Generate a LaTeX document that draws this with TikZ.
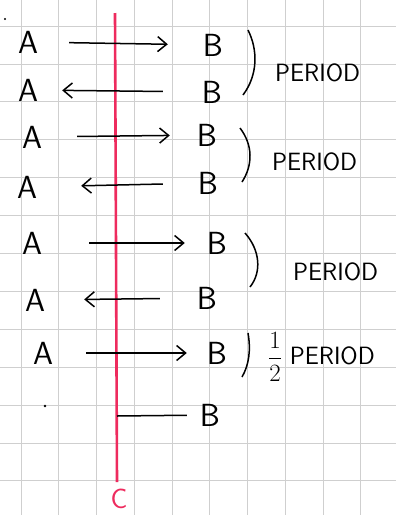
\documentclass[tikz,border=0pt]{standalone}
\usepackage{fontspec}
\usepackage{tikz}
\usetikzlibrary{arrows.meta,positioning}
\definecolor{rouge}{HTML}{EE2B5E}
\definecolor{grisclair}{HTML}{CFCFCF}

\begin{document}
\begin{tikzpicture}[x=1pt,y=-1pt,
  lettre/.style={font=\fontsize{32}{32}\selectfont\sffamily,inner sep=0pt},
  per/.style={font=\fontsize{25}{25}\selectfont\sffamily,inner sep=0pt,anchor=west},
  fl/.style={-{Straight Barb[length=9pt,width=15pt]},line width=1.5pt},
  acc/.style={line width=1.5pt},
  axe/.style={rouge,line width=2.6pt},
  grille/.style={grisclair,line width=0.7pt}]
  \useasboundingbox (0,0) rectangle (396,515);
  % Quadrillage
  \foreach \i in {0,...,9} \draw[grille] (21+37.75*\i,0) -- (21+37.75*\i,515);
  \foreach \j in {0,...,12} \draw[grille] (0,26+37.9*\j) -- (396,26+37.9*\j);
  % Axe C
  \coordinate (ct) at (115,13);
  \coordinate (cb) at (117,482);
  \draw[axe] (ct) -- (cb);
  \node[lettre,rouge,font=\fontsize{28}{28}\selectfont\sffamily] (c) at (119,499) {C};
  % Lettres A
  \node[lettre] (a1) at (28,42) {A};
  \node[lettre] (a2) at (28,90) {A};
  \node[lettre] (a3) at (32,137) {A};
  \node[lettre] (a4) at (27,187) {A};
  \node[lettre] (a5) at (32,243) {A};
  \node[lettre] (a6) at (35,300) {A};
  \node[lettre] (a7) at (43,353) {A};
  % Lettres B
  \node[lettre] (b1) at (213,45) {B};
  \node[lettre] (b2) at (212,92) {B};
  \node[lettre] (b3) at (207,135) {B};
  \node[lettre] (b4) at (208,183) {B};
  \node[lettre] (b5) at (217,243) {B};
  \node[lettre] (b6) at (207,298) {B};
  \node[lettre] (b7) at (217,353) {B};
  \node[lettre] (b8) at (210,415) {B};
  % Points
  \fill (5,19) circle (1.2pt);
  \fill (45,406) circle (1.4pt);
  % Allers-retours
  \draw[fl,shorten <=31pt,shorten >=35pt] (a1) -- (b1);
  \draw[fl,shorten <=39pt,shorten >=24pt] (b2) -- (a2);
  \draw[fl,shorten <=35pt,shorten >=27pt] (a3) -- (b3);
  \draw[fl,shorten <=35pt,shorten >=44pt] (b4) -- (a4);
  \draw[fl,shorten <=47pt,shorten >=22pt] (a5) -- (b5);
  \draw[fl,shorten <=37pt,shorten >=39pt] (b6) -- (a6);
  \draw[fl,shorten <=33pt,shorten >=20pt] (a7) -- (b7);
  \coordinate (c8) at (117,416);
  \draw[line width=1.5pt,shorten >=13pt] (c8) -- (b8);
  % Accolades
  \draw[acc] (248,30) .. controls (258,50) and (258,75) .. (243,95);
  \draw[acc] (240,128) .. controls (253,145) and (253,165) .. (242,182);
  \draw[acc] (245,233) .. controls (260,250) and (262,272) .. (250,287);
  \draw[acc] (248,333) .. controls (251,350) and (249,365) .. (242,377);
  \node[per] (p1) at (275,73) {PERIOD};
  \node[per] (p2) at (272,162) {PERIOD};
  \node[per] (p3) at (293,272) {PERIOD};
  \node[per] (p4) at (268,357) {$\displaystyle\frac{1}{2}$ PERIOD};
\end{tikzpicture}
\end{document}
